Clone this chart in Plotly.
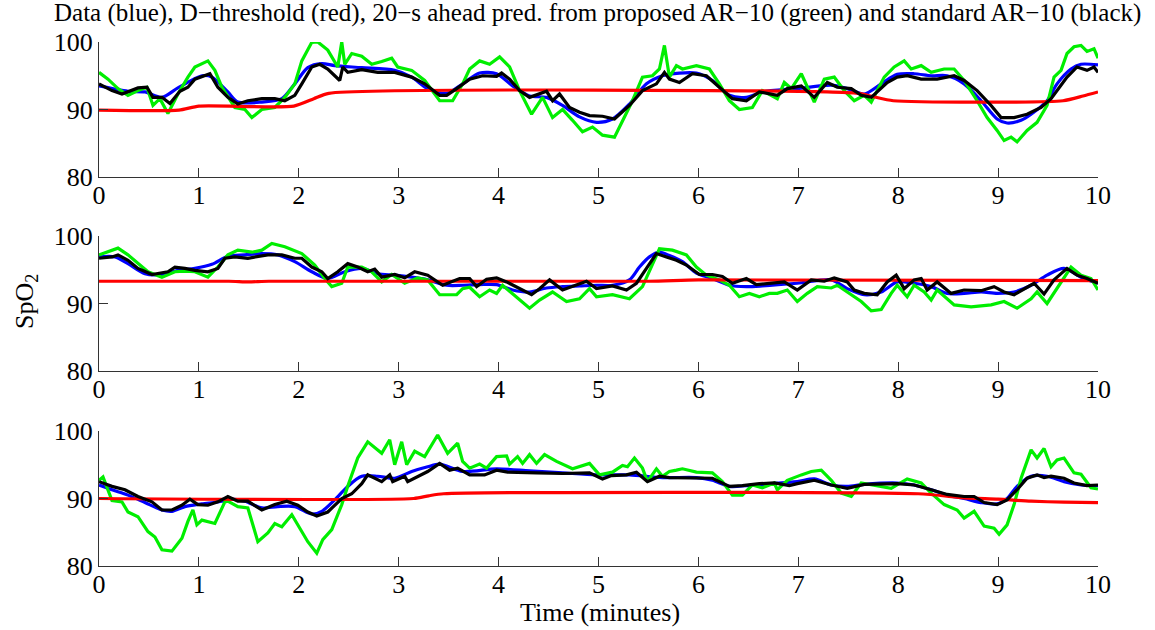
import plotly.graph_objects as go
from plotly.subplots import make_subplots

# ---------------- Panel 1 ----------------
p1_blue_t = [0, 0.29, 0.46, 0.63, 0.79, 1.03, 1.13, 1.29, 1.39, 1.63, 1.83, 1.96, 2.09, 2.23, 2.36, 2.63, 2.96, 3.13, 3.29,
             3.48, 3.64, 3.81, 3.98, 4.14, 4.31, 4.48, 4.64, 4.81, 4.98, 5.14, 5.31, 5.48, 5.64, 5.81, 5.98, 6.14, 6.31, 6.48,
             6.64, 6.99, 7.33, 7.49, 7.66, 7.83, 7.99, 8.16, 8.33, 8.49, 8.66, 8.83, 8.99, 9.09, 9.23, 9.33, 9.49, 9.59, 9.73,
             9.83, 10.0]
p1_blue_v = [93.5, 92.7, 92.6, 91.8, 93.2, 95.0, 94.8, 92.6, 91.1, 91.1, 91.6, 93.8, 96.2, 96.8, 96.5, 96.2, 95.8, 94.8, 93.1,
             92.4, 93.8, 95.4, 95.3, 93.5, 92.0, 91.8, 90.6, 88.9, 88.1, 88.6, 90.8, 93.8, 95.0, 95.4, 95.4, 94.3, 92.1, 91.8,
             92.6, 93.1, 93.6, 93.1, 92.3, 93.8, 95.2, 95.3, 95.0, 95.0, 93.8, 91.3, 88.6, 88.0, 88.4, 89.3, 91.3, 93.8, 96.0,
             96.7, 96.6]
p1_red_t = [0, 0.8, 1.0, 1.95, 2.15, 2.3, 7.6, 7.75, 7.95, 9.65, 9.85, 10.0]
p1_red_v = [89.9, 89.9, 90.5, 90.5, 91.6, 92.4, 92.4, 91.9, 91.3, 91.3, 92.0, 92.6]
p1_green_t = [0.0, 0.09, 0.19, 0.29, 0.39, 0.48, 0.54, 0.61, 0.69, 0.79, 0.89, 0.96, 1.09, 1.16, 1.23, 1.36, 1.46, 1.53,
              1.63, 1.76, 1.86, 1.96, 2.03, 2.13, 2.19, 2.29, 2.39, 2.43, 2.46, 2.53, 2.63, 2.73, 2.83, 2.93, 2.99, 3.13,
              3.26, 3.41, 3.54, 3.64, 3.71, 3.81, 3.91, 4.01, 4.11, 4.21, 4.33, 4.44, 4.54, 4.64, 4.74, 4.84, 4.94, 5.04,
              5.16, 5.24, 5.34, 5.44, 5.54, 5.61, 5.66, 5.71, 5.78, 5.84, 5.98, 6.11, 6.21, 6.31, 6.41, 6.54, 6.64, 6.79,
              6.86, 6.93, 7.03, 7.16, 7.26, 7.36, 7.46, 7.56, 7.66, 7.73, 7.86, 7.96, 8.06, 8.13, 8.23, 8.33, 8.46, 8.56,
              8.66, 8.79, 8.89, 8.99, 9.06, 9.13, 9.19, 9.29, 9.39, 9.49, 9.56, 9.63, 9.69, 9.76, 9.83, 9.89, 9.96, 10.0]
p1_green_v = [95.5, 94.5, 93.1, 92.1, 92.8, 93.3, 90.6, 91.6, 89.4, 92.3, 94.8, 96.3, 97.2, 95.8, 93.3, 90.3, 90.0, 88.8,
              90.0, 90.3, 91.8, 93.8, 97.2, 99.95, 100.0, 98.8, 96.3, 100.0, 96.7, 98.3, 97.9, 96.7, 97.1, 97.6, 96.3, 95.8,
              94.3, 91.3, 91.3, 93.8, 96.0, 97.2, 96.7, 97.8, 96.3, 92.8, 89.3, 91.8, 88.8, 90.0, 88.4, 86.7, 87.4, 86.2,
              85.9, 88.4, 91.3, 94.8, 95.0, 96.0, 99.5, 94.8, 96.5, 96.0, 96.5, 96.0, 93.8, 91.3, 90.0, 90.3, 92.8, 91.6,
              94.0, 93.1, 95.3, 91.1, 94.5, 94.8, 92.8, 91.3, 92.1, 91.1, 94.8, 96.3, 97.2, 96.0, 96.5, 95.5, 96.0, 96.0,
              94.3, 91.3, 88.8, 86.9, 85.4, 85.9, 85.2, 86.9, 88.1, 90.6, 94.8, 95.8, 98.3, 99.3, 99.5, 98.6, 99.0, 97.6]
p1_black_t = [0.0, 0.13, 0.23, 0.39, 0.48, 0.54, 0.63, 0.71, 0.81, 0.89, 0.96, 1.11, 1.19, 1.29, 1.39, 1.49, 1.63, 1.76,
              1.86, 1.96, 2.03, 2.13, 2.21, 2.29, 2.41, 2.44, 2.49, 2.63, 2.79, 2.96, 3.13, 3.26, 3.41, 3.48, 3.58, 3.71,
              3.84, 3.98, 4.03, 4.11, 4.21, 4.31, 4.48, 4.54, 4.61, 4.71, 4.81, 4.91, 5.04, 5.16, 5.31, 5.44, 5.58, 5.66,
              5.71, 5.81, 5.94, 6.08, 6.21, 6.34, 6.48, 6.61, 6.79, 6.89, 7.03, 7.16, 7.29, 7.39, 7.53, 7.63, 7.73, 7.89,
              7.99, 8.09, 8.23, 8.39, 8.56, 8.66, 8.79, 8.93, 9.03, 9.16, 9.29, 9.43, 9.53, 9.59, 9.69, 9.79, 9.89, 9.96,
              10.0]
p1_black_v = [93.8, 92.8, 92.3, 93.2, 93.3, 91.8, 91.8, 90.9, 92.7, 93.3, 94.5, 95.3, 93.3, 91.8, 90.8, 91.3, 91.6, 91.6,
              91.3, 92.1, 93.8, 96.3, 96.7, 96.0, 94.3, 96.3, 95.5, 95.9, 95.5, 95.5, 94.8, 93.8, 92.1, 92.1, 93.1, 94.5,
              95.0, 94.9, 95.4, 94.5, 92.8, 91.8, 92.7, 91.3, 92.3, 90.3, 89.6, 89.1, 89.0, 88.6, 90.6, 92.8, 93.8, 95.5,
              94.5, 94.0, 95.3, 95.0, 93.3, 91.6, 91.3, 92.6, 92.1, 93.1, 93.5, 91.8, 94.0, 93.3, 93.1, 92.1, 91.8, 94.0,
              94.8, 95.0, 94.5, 94.5, 95.0, 94.3, 92.8, 90.6, 88.8, 88.8, 89.3, 90.3, 91.6, 92.8, 94.8, 96.3, 95.8, 96.3,
              95.5]

# ---------------- Panel 2 ----------------
p2_blue_t = [0, 0.16, 0.29, 0.46, 0.63, 0.79, 0.96, 1.13, 1.29, 1.46, 1.63, 1.79, 1.96, 2.13, 2.29, 2.46, 2.63, 2.79, 2.96,
             3.13, 3.29, 3.48, 3.64, 3.81, 3.98, 4.14, 4.31, 4.48, 4.64, 4.81, 4.98, 5.14, 5.31, 5.41, 5.51, 5.61, 5.71,
             5.84, 5.98, 6.14, 6.31, 6.48, 6.64, 6.99, 7.33, 7.49, 7.66, 7.83, 7.99, 8.16, 8.33, 8.49, 8.66, 8.83, 8.99,
             9.16, 9.33, 9.49, 9.66, 9.83, 10.0]
p2_blue_v = [96.9, 96.9, 95.9, 94.4, 94.3, 94.9, 95.2, 95.8, 97.0, 97.2, 97.4, 97.2, 96.2, 94.7, 93.7, 94.7, 95.2, 94.4, 94.2,
             93.9, 93.5, 92.7, 92.7, 92.8, 92.8, 92.0, 91.7, 92.3, 92.5, 92.6, 92.7, 92.7, 93.5, 95.4, 96.9, 97.6, 97.1,
             96.2, 94.5, 93.7, 92.7, 92.5, 92.6, 93.0, 93.5, 92.2, 91.3, 91.7, 93.2, 93.0, 92.5, 91.5, 91.5, 91.7, 91.5,
             91.7, 92.7, 94.2, 95.2, 93.9, 93.0]
p2_red_t = [0, 1.3, 1.5, 1.7, 5.5, 6.0, 10.0]
p2_red_v = [93.3, 93.3, 93.2, 93.3, 93.3, 93.5, 93.4]
p2_green_t = [0, 0.13, 0.19, 0.29, 0.39, 0.49, 0.63, 0.76, 0.86, 0.96, 1.09, 1.19, 1.29, 1.39, 1.53, 1.63, 1.73, 1.86,
              2.03, 2.16, 2.26, 2.33, 2.43, 2.49, 2.63, 2.73, 2.83, 2.93, 3.06, 3.19, 3.29, 3.41, 3.58, 3.64, 3.71, 3.81,
              3.91, 3.98, 4.04, 4.18, 4.31, 4.41, 4.54, 4.68, 4.81, 4.91, 4.98, 5.14, 5.31, 5.44, 5.53, 5.61, 5.74, 5.88,
              5.98, 6.08, 6.21, 6.31, 6.41, 6.51, 6.61, 6.71, 6.79, 6.89, 6.99, 7.09, 7.19, 7.33, 7.39, 7.53, 7.63, 7.73,
              7.83, 7.93, 7.99, 8.09, 8.16, 8.26, 8.33, 8.39, 8.56, 8.73, 8.93, 9.06, 9.19, 9.33, 9.39, 9.49, 9.59, 9.73,
              9.83, 9.93, 10.0]
p2_green_v = [97.2, 97.9, 98.2, 97.2, 95.9, 94.7, 93.9, 94.7, 94.8, 94.7, 93.9, 95.4, 97.2, 97.9, 97.6, 97.9, 98.9, 98.4,
              97.4, 95.7, 93.7, 92.5, 93.0, 95.4, 95.4, 94.7, 93.2, 94.3, 93.0, 93.8, 93.5, 91.3, 91.3, 92.2, 92.4, 91.0,
              92.0, 91.5, 92.7, 91.0, 89.3, 90.5, 91.7, 90.3, 90.7, 92.2, 91.0, 91.3, 90.7, 92.5, 95.6, 98.1, 97.9, 97.2,
              95.4, 94.2, 93.5, 92.7, 91.0, 91.5, 91.0, 91.5, 91.5, 92.0, 90.3, 91.5, 92.5, 92.3, 92.7, 91.3, 90.3, 88.9,
              89.1, 91.5, 92.7, 91.0, 92.7, 91.7, 90.5, 92.0, 89.8, 89.5, 89.8, 90.3, 89.3, 90.7, 91.7, 90.0, 92.2, 95.4,
              94.2, 93.7, 92.0]
p2_black_t = [0, 0.13, 0.19, 0.29, 0.39, 0.53, 0.69, 0.76, 0.86, 0.96, 1.09, 1.19, 1.26, 1.36, 1.49, 1.59, 1.69, 1.83,
              1.96, 2.03, 2.13, 2.23, 2.29, 2.39, 2.49, 2.59, 2.69, 2.76, 2.83, 2.96, 3.06, 3.16, 3.29, 3.44, 3.61, 3.71,
              3.78, 3.88, 3.98, 4.08, 4.21, 4.33, 4.41, 4.51, 4.64, 4.74, 4.88, 4.98, 5.14, 5.28, 5.38, 5.48, 5.58, 5.68,
              5.78, 5.88, 6.01, 6.14, 6.24, 6.34, 6.48, 6.58, 6.66, 6.76, 6.86, 6.99, 7.13, 7.26, 7.36, 7.49, 7.56, 7.66,
              7.79, 7.89, 7.98, 8.06, 8.16, 8.23, 8.29, 8.39, 8.53, 8.66, 8.83, 8.96, 9.06, 9.16, 9.26, 9.36, 9.46, 9.56,
              9.69, 9.79, 9.89, 10.0]
p2_black_v = [96.7, 96.9, 97.2, 96.4, 95.2, 94.3, 94.7, 95.4, 95.2, 94.9, 94.7, 95.2, 96.7, 96.9, 96.7, 96.9, 97.2, 97.2,
              96.7, 96.7, 95.4, 94.7, 93.7, 94.7, 95.9, 95.4, 94.7, 95.1, 93.9, 94.3, 93.8, 94.7, 94.2, 92.7, 93.7, 93.7,
              92.5, 93.6, 93.8, 93.2, 92.2, 91.3, 92.2, 93.5, 92.0, 92.5, 93.3, 92.2, 92.6, 92.0, 93.0, 95.2, 97.4, 96.9,
              96.4, 95.7, 94.3, 94.3, 94.0, 93.0, 93.7, 92.8, 92.9, 93.1, 93.2, 92.0, 93.5, 93.3, 93.8, 93.2, 92.0, 91.5,
              91.3, 93.2, 94.2, 92.2, 93.5, 93.7, 92.0, 93.2, 91.5, 92.0, 91.9, 92.5, 91.7, 91.3, 92.2, 93.0, 91.4, 93.5,
              95.2, 94.2, 93.7, 93.0]

# ---------------- Panel 3 ----------------
p3_blue_t = [0, 0.13, 0.29, 0.46, 0.63, 0.73, 0.86, 1.03, 1.23, 1.29, 1.46, 1.63, 1.79, 1.96, 2.13, 2.23, 2.36, 2.49, 2.63,
             2.79, 2.96, 3.13, 3.29, 3.41, 3.64, 3.98, 4.31, 4.64, 4.98, 5.31, 5.64, 5.98, 6.14, 6.31, 6.48, 6.64, 6.99,
             7.16, 7.33, 7.49, 7.66, 7.99, 8.16, 8.33, 8.49, 8.66, 8.83, 8.99, 9.09, 9.19, 9.33, 9.49, 9.66, 9.83, 10.0]
p3_blue_v = [92.0, 91.3, 90.5, 89.4, 88.3, 88.1, 88.8, 89.2, 89.6, 89.9, 89.6, 88.6, 88.8, 88.8, 87.7, 88.1, 89.8, 91.8, 93.3,
             93.3, 93.0, 94.0, 94.7, 95.1, 94.0, 94.4, 94.1, 93.8, 93.5, 93.5, 93.1, 93.1, 92.7, 91.8, 91.9, 92.1, 92.5,
             92.9, 92.0, 91.8, 92.1, 92.3, 92.0, 91.3, 90.5, 90.0, 89.4, 89.2, 90.0, 91.8, 93.3, 93.3, 92.5, 92.0, 91.9]
p3_red_t = [0, 3.15, 3.3, 3.45, 8.2, 8.66, 9.0, 9.33, 9.66, 10.0]
p3_red_v = [90.0, 90.0, 90.4, 90.7, 90.7, 90.1, 89.9, 89.6, 89.45, 89.4]
p3_green_t = [0, 0.04, 0.13, 0.23, 0.29, 0.39, 0.49, 0.56, 0.63, 0.73, 0.83, 0.89, 0.94, 0.98, 1.03, 1.16, 1.26, 1.29,
              1.39, 1.49, 1.59, 1.69, 1.76, 1.83, 1.93, 1.99, 2.09, 2.18, 2.24, 2.33, 2.43, 2.49, 2.59, 2.69, 2.83, 2.91,
              2.96, 3.03, 3.08, 3.16, 3.26, 3.39, 3.49, 3.59, 3.64, 3.71, 3.81, 3.88, 3.98, 4.08, 4.11, 4.19, 4.24, 4.31,
              4.38, 4.46, 4.58, 4.74, 4.91, 5.01, 5.14, 5.24, 5.29, 5.36, 5.44, 5.49, 5.58, 5.64, 5.71, 5.78, 5.84, 5.98,
              6.14, 6.24, 6.34, 6.44, 6.54, 6.64, 6.76, 6.79, 6.89, 7.03, 7.13, 7.23, 7.33, 7.43, 7.53, 7.63, 7.76, 7.93,
              8.09, 8.23, 8.33, 8.46, 8.59, 8.66, 8.76, 8.86, 8.96, 9.01, 9.09, 9.16, 9.23, 9.33, 9.39, 9.46, 9.53, 9.59,
              9.66, 9.76, 9.83, 9.93, 10.0]
p3_green_v = [92.7, 93.2, 89.7, 89.5, 88.0, 87.3, 85.1, 84.3, 82.4, 82.2, 84.1, 86.6, 88.3, 86.1, 86.8, 86.3, 89.5, 89.6,
              88.8, 88.6, 83.6, 84.9, 86.3, 85.8, 87.6, 86.1, 83.6, 81.9, 83.9, 85.4, 89.1, 91.8, 96.0, 98.4, 96.7, 98.7,
              95.0, 98.4, 95.0, 97.0, 96.2, 99.4, 96.7, 98.2, 95.5, 94.5, 95.1, 94.5, 96.2, 96.3, 95.1, 96.2, 95.2, 96.5,
              95.2, 96.5, 95.5, 94.4, 95.2, 93.5, 93.9, 94.9, 94.7, 96.0, 94.5, 92.5, 94.4, 93.3, 94.0, 94.2, 94.4, 93.9,
              93.8, 92.5, 90.5, 90.5, 92.0, 91.6, 92.3, 91.3, 92.7, 93.5, 94.0, 94.2, 92.7, 90.8, 90.3, 92.3, 92.0, 91.5,
              92.9, 92.3, 90.8, 89.1, 88.3, 87.1, 88.1, 85.9, 85.6, 84.7, 86.1, 89.1, 93.0, 97.2, 96.0, 97.4, 94.7, 95.7,
              96.0, 93.8, 93.6, 91.6, 91.4]
p3_black_t = [0, 0.13, 0.26, 0.39, 0.53, 0.63, 0.73, 0.83, 0.91, 0.99, 1.09, 1.19, 1.29, 1.39, 1.49, 1.63, 1.76, 1.88,
              1.99, 2.09, 2.18, 2.29, 2.43, 2.53, 2.63, 2.69, 2.83, 2.91, 2.94, 3.06, 3.09, 3.19, 3.29, 3.41, 3.51, 3.59,
              3.71, 3.86, 3.98, 4.09, 4.18, 4.31, 4.38, 4.64, 4.91, 5.04, 5.13, 5.28, 5.38, 5.49, 5.61, 5.71, 5.98, 6.14,
              6.31, 6.44, 6.61, 6.76, 6.91, 6.99, 7.16, 7.33, 7.49, 7.66, 7.99, 8.16, 8.33, 8.49, 8.66, 8.76, 8.86, 8.99,
              9.09, 9.19, 9.29, 9.39, 9.46, 9.53, 9.66, 9.76, 9.89, 10.0]
p3_black_v = [92.5, 91.8, 91.3, 90.3, 89.5, 88.3, 88.3, 89.0, 89.9, 89.1, 89.0, 89.5, 90.3, 89.6, 89.6, 88.3, 89.1, 89.6,
              89.0, 88.0, 87.4, 88.0, 90.0, 90.7, 92.2, 93.5, 92.5, 93.5, 92.5, 93.3, 92.5, 93.3, 94.0, 95.2, 94.2, 94.5,
              93.5, 93.5, 94.2, 93.9, 93.9, 93.9, 93.8, 93.7, 93.8, 92.9, 93.4, 93.5, 93.9, 92.5, 93.3, 93.1, 93.1, 93.0,
              91.8, 91.9, 92.2, 92.3, 91.9, 92.2, 92.7, 92.0, 91.5, 92.1, 92.2, 92.0, 91.3, 90.6, 90.3, 90.3, 89.4, 89.1,
              89.8, 91.3, 93.0, 93.5, 93.1, 93.3, 93.0, 92.3, 91.9, 92.0]

x_ticks = list(range(0, 11))
y_ticks = [80, 90, 100]

title_text = ("Data (blue), D\u2212threshold (red), 20\u2212s ahead pred. from proposed AR\u221210 (green) "
              "and standard AR\u221210 (black)")
x_label = "Time (minutes)"
y_label = "SpO<sub>2</sub>"

panels = [
    (p1_blue_t, p1_blue_v, p1_red_t, p1_red_v, p1_green_t, p1_green_v, p1_black_t, p1_black_v),
    (p2_blue_t, p2_blue_v, p2_red_t, p2_red_v, p2_green_t, p2_green_v, p2_black_t, p2_black_v),
    (p3_blue_t, p3_blue_v, p3_red_t, p3_red_v, p3_green_t, p3_green_v, p3_black_t, p3_black_v),
]

# pixel layout of the three axes (figure is 1155 x 630)
W, H = 1155, 630
L, R, T, B = 99, 57, 42, 64
plot_h = H - T - B
panel_px = [(42, 177), (236, 371), (431, 566)]  # (top, bottom) in pixels


def ypaper(py):
    return (H - B - py) / plot_h


def xpaper(px):
    return (px - L) / (W - L - R)


fig = make_subplots(rows=3, cols=1)

serif = "Liberation Serif"
for i, (bt, bv, rt, rv, gt, gv, kt, kv) in enumerate(panels, start=1):
    fig.add_trace(go.Scatter(x=bt, y=bv, mode="lines", line=dict(color="#0000ff", width=3.2, shape="spline", smoothing=0.8),
                             hoverinfo="skip"), row=i, col=1)
    fig.add_trace(go.Scatter(x=gt, y=gv, mode="lines", line=dict(color="#00ee00", width=3.2),
                             hoverinfo="skip"), row=i, col=1)
    fig.add_trace(go.Scatter(x=rt, y=rv, mode="lines", line=dict(color="#ff0000", width=3.2, shape="spline", smoothing=0.6),
                             hoverinfo="skip"), row=i, col=1)
    fig.add_trace(go.Scatter(x=kt, y=kv, mode="lines", line=dict(color="#000000", width=3.2),
                             hoverinfo="skip"), row=i, col=1)

axis_common = dict(showgrid=False, zeroline=False, showline=True, linecolor="#333333", linewidth=1,
                   ticks="inside", ticklen=9, tickcolor="#333333", tickwidth=1,
                   tickfont=dict(family=serif, size=26, color="black"))

for i, (top, bot) in enumerate(panel_px, start=1):
    fig.update_xaxes(range=[0, 10], tickvals=x_ticks, domain=[0, 1], ticklabelstandoff=-5,
                     row=i, col=1, **axis_common)
    fig.update_yaxes(range=[80, 100], tickvals=y_ticks, domain=[ypaper(bot), ypaper(top)], row=i, col=1,
                     **axis_common)

annotations = [
    dict(text=title_text, x=xpaper(597), y=ypaper(13), xref="paper", yref="paper", showarrow=False,
         xanchor="center", yanchor="middle", font=dict(family=serif, size=25, color="black")),
    dict(text=x_label, x=xpaper(600), y=ypaper(612), xref="paper", yref="paper", showarrow=False,
         xanchor="center", yanchor="middle", font=dict(family=serif, size=26, color="black")),
    dict(text=y_label, x=xpaper(26), y=ypaper(302), xref="paper", yref="paper", showarrow=False,
         xanchor="center", yanchor="middle", textangle=-90, font=dict(family=serif, size=26, color="black")),
]

fig.update_layout(
    width=W, height=H,
    margin=dict(l=L, r=R, t=T, b=B, autoexpand=False),
    paper_bgcolor="white", plot_bgcolor="white",
    showlegend=False,
    annotations=annotations,
)

fig.write_html("out.html", config={"displayModeBar": False})
